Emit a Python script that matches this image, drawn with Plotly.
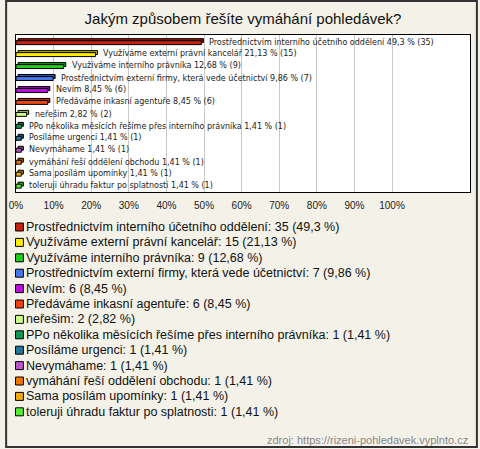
import plotly.graph_objects as go

title = "Jakým způsobem řešíte vymáhání pohledávek?"
categories = [
    "Prostřednictvím interního účetního oddělení",
    "Využíváme externí právní kancelář",
    "Využíváme interního právníka",
    "Prostřednictvím externí firmy, která vede účetnictví",
    "Nevím",
    "Předáváme inkasní agentuře",
    "neřešim",
    "PPo několika měsících řešíme přes interního právníka",
    "Posíláme urgenci",
    "Nevymáhame",
    "vymáhání řeší oddělení obchodu",
    "Sama posílám upomínky",
    "toleruji úhradu faktur po splatnosti",
]
counts = [35, 15, 9, 7, 6, 6, 2, 1, 1, 1, 1, 1, 1]
percents = [49.3, 21.13, 12.68, 9.86, 8.45, 8.45, 2.82, 1.41, 1.41, 1.41, 1.41, 1.41, 1.41]
colors = ["#C0230F", "#FFEE00", "#22CC22", "#4477EE", "#BB11DD", "#EE4411", "#CCFF88",
          "#119955", "#227799", "#BB55CC", "#EE7700", "#EEAA00", "#55EE33"]
tick_vals = [0, 10, 20, 30, 40, 50, 60, 70, 80, 90, 100]
tick_text = ["0%", "10%", "20%", "30%", "40%", "50%", "60%", "70%", "80%", "90%", "100%"]
source = "zdroj: https://rizeni-pohledavek.vyplnto.cz"

W, H = 480, 449
L, R, T, B = 11, 9, 35, 257
PW, PH = W - L - R, H - T - B
FONT = "Liberation Sans, Arial, sans-serif"
SMALL_FONT = "DejaVu Sans, Verdana, sans-serif"


def fmt(v):
    s = ("%.2f" % v).rstrip("0").rstrip(".")
    return s.replace(".", ",")


def darker(hexc, f=0.72):
    r, g, b = int(hexc[1:3], 16), int(hexc[3:5], 16), int(hexc[5:7], 16)
    return "rgb(%d,%d,%d)" % (r * f, g * f, b * f)


def px_x(x):
    return (x - L) / PW


def px_y(y):
    return (H - B - y) / PH


fig = go.Figure()
depth = 0.55
# depth (3D) part
fig.add_trace(go.Bar(
    y=categories, x=percents, base=depth, orientation="h",
    marker=dict(color=[darker(c) for c in colors], line=dict(color="#000", width=1)),
    width=0.33, offset=-0.28, showlegend=False, hoverinfo="skip",
))
# front face
fig.add_trace(go.Bar(
    y=categories, x=percents, orientation="h",
    marker=dict(color=colors, line=dict(color="#000", width=1)),
    width=0.33, offset=-0.11, showlegend=False,
))

annotations = []
for c, v, n in zip(categories, percents, counts):
    annotations.append(dict(
        x=v, y=c, xref="x", yref="y", xanchor="left", yanchor="middle",
        text="%s %s %% (%d)" % (c, fmt(v), n), showarrow=False, xshift=6, yshift=0,
        font=dict(family=SMALL_FONT, size=8, color="#222"),
    ))

shapes = []
row0, step = 227, 15.4
for i, (c, v, n, col) in enumerate(zip(categories, percents, counts, colors)):
    yc = row0 + i * step
    shapes.append(dict(type="rect", xref="paper", yref="paper",
                       x0=px_x(10.5), x1=px_x(18.5), y0=px_y(yc + 4), y1=px_y(yc - 4),
                       fillcolor=col, line=dict(color="#000", width=1)))
    annotations.append(dict(
        x=px_x(19), y=px_y(yc), xref="paper", yref="paper", xanchor="left", yanchor="middle",
        text="%s: %d (%s %%)" % (c, n, fmt(v)), showarrow=False,
        font=dict(family=FONT, size=12.5, color="#111"),
    ))

annotations.append(dict(
    x=px_x(471), y=px_y(440), xref="paper", yref="paper", xanchor="right", yanchor="middle",
    text=source, showarrow=False, font=dict(family=FONT, size=11, color="#888"),
))

# outer frame
shapes.append(dict(type="rect", xref="paper", yref="paper",
                   x0=px_x(1), x1=px_x(478), y0=px_y(447), y1=px_y(1),
                   line=dict(color="#333", width=2), fillcolor="rgba(0,0,0,0)", layer="above"))

fig.update_layout(
    width=W, height=H,
    margin=dict(l=L, r=R, t=T, b=B, pad=0),
    paper_bgcolor="#F3F1E8", plot_bgcolor="#FFFFFF",
    barmode="overlay",
    title=dict(text=title, x=0.5, xref="paper", xanchor="center", y=1 - 19 / H, yanchor="middle",
               font=dict(family=FONT, size=15, color="#111")),
    font=dict(family=FONT),
    xaxis=dict(range=[0, PW / 3.81], tickvals=tick_vals, ticktext=tick_text,
               showgrid=True, gridcolor="#C8C8C8", gridwidth=1, zeroline=False,
               showline=True, linecolor="#000", linewidth=1, mirror=True,
               ticks="", ticklabelstandoff=4,
               tickfont=dict(family=FONT, size=10, color="#222"), fixedrange=True),
    yaxis=dict(autorange="reversed", showticklabels=False, showgrid=False, zeroline=False,
               showline=True, linecolor="#000", linewidth=1, mirror=True, ticks="", fixedrange=True),
    annotations=annotations, shapes=shapes, showlegend=False,
)

fig.write_html("out.html", config={"displayModeBar": False, "staticPlot": True},
               post_script="document.body.style.margin='0';document.body.style.padding='0';")
